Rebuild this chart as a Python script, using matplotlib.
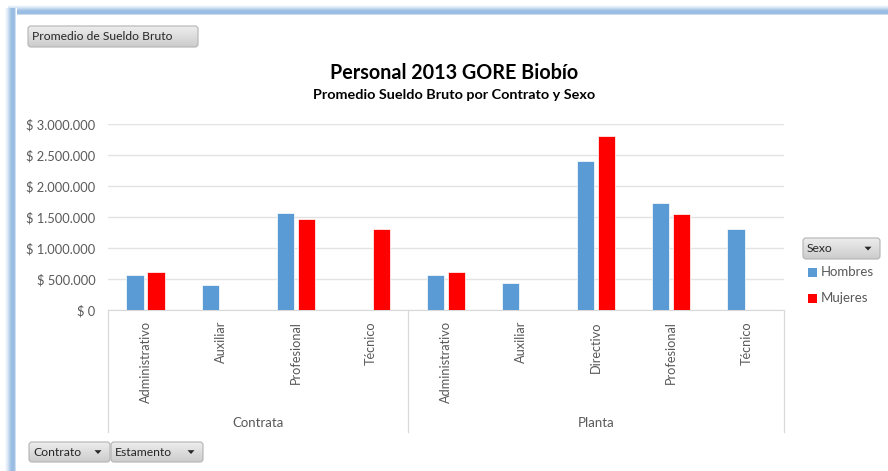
import numpy as np
import matplotlib
matplotlib.use("Agg")
import matplotlib.pyplot as plt
from matplotlib.patches import FancyBboxPatch, Rectangle, Polygon
from matplotlib.ticker import FuncFormatter, MultipleLocator

# ---------------- data ----------------
contratos = ["Contrata", "Planta"]
estamentos_contrata = ["Administrativo", "Auxiliar", "Profesional", "Técnico"]
estamentos_planta = ["Administrativo", "Auxiliar", "Directivo", "Profesional", "Técnico"]
hombres_contrata = [570000, 400000, 1570000, np.nan]
mujeres_contrata = [620000, np.nan, 1460000, 1310000]
hombres_planta = [565000, 430000, 2410000, 1725000, 1305000]
mujeres_planta = [615000, np.nan, 2810000, 1550000, np.nan]
series_names = ["Hombres", "Mujeres"]
series_colors = ["#5B9BD5", "#FF0000"]

FONT = ["Lato", "DejaVu Sans"]
plt.rcParams["font.family"] = FONT
GRAY = "#595959"

W, H = 888, 471
fig = plt.figure(figsize=(W / 100, H / 100), dpi=100)
fig.patch.set_facecolor("white")

# overlay axes in pixel coordinates
ov = fig.add_axes([0, 0, 1, 1], zorder=0)
ov.set_xlim(0, W)
ov.set_ylim(H, 0)
ov.axis("off")

# blue frame gradient (left and top)
prof = np.array([0.0, 0.15, 0.35, 0.6, 0.85, 1.0, 1.0, 0.9, 0.0])
base = np.array([1.0, 1.0, 1.0])
blue = np.array([0.60, 0.74, 0.89])
cols = base[None, :] * (1 - prof[:, None]) + blue[None, :] * prof[:, None]
top_img = np.repeat(cols[:, None, :], 2, axis=1)
ov.imshow(top_img, extent=(8, W, 16, 4), aspect="auto", interpolation="bilinear", zorder=1)
left_img = np.repeat(cols[None, :, :], 2, axis=0)
ov.imshow(left_img, extent=(4, 16, H, 8), aspect="auto", interpolation="bilinear", zorder=1)
ov.add_patch(Rectangle((16, 16), W - 16, H - 16, facecolor="white", edgecolor="none", zorder=2))

grad = np.linspace(0.93, 0.80, 32)
btn_img = np.repeat(np.stack([grad, grad, grad], axis=1)[:, None, :], 2, axis=1)


def button(x0, y0, w, h, label, arrow=False):
    frame = FancyBboxPatch((x0, y0), w, h, boxstyle="round,pad=0,rounding_size=3",
                           facecolor="none", edgecolor="#b3b3b3", linewidth=0.8, zorder=4)
    ov.add_patch(frame)
    im = ov.imshow(btn_img, extent=(x0, x0 + w, y0 + h, y0), aspect="auto",
                   interpolation="bilinear", zorder=3)
    im.set_clip_path(frame)
    ov.text(x0 + 4, y0 + h / 2 + 0.5, label, fontsize=8.7, color="#262626",
            ha="left", va="center", zorder=5)
    if arrow:
        ax_ = x0 + w - 12
        ay = y0 + h / 2
        ov.add_patch(Polygon([[ax_ - 3.5, ay - 1.8], [ax_ + 3.5, ay - 1.8], [ax_, ay + 2]],
                             closed=True, facecolor="#262626", edgecolor="none", zorder=5))


button(28, 26, 170, 21, "Promedio de Sueldo Bruto")
button(29, 442, 81, 20, "Contrato", arrow=True)
button(111, 442, 92, 20, "Estamento", arrow=True)
button(803, 238, 77, 21, "Sexo", arrow=True)
ov.set_xlim(0, W)
ov.set_ylim(H, 0)

# legend entries
for i, (nm, c) in enumerate(zip(series_names, series_colors)):
    yy = 272 + i * 26
    ov.add_patch(Rectangle((808, yy - 4.5), 9, 9, facecolor=c, edgecolor="none", zorder=4))
    ov.text(821, yy, nm, fontsize=9.5, color=GRAY, ha="left", va="center", zorder=4)

# titles
ov.text(454, 73, "Personal 2013 GORE Biobío", fontsize=14.2, fontweight="bold",
        color="black", ha="center", va="center", zorder=4)
ov.text(454, 95, "Promedio Sueldo Bruto por Contrato y Sexo", fontsize=10.4, fontweight="bold",
        color="black", ha="center", va="center", zorder=4)

# ---------------- main chart ----------------
x_left, x_right, y_bot, y_top = 108, 784, 310, 124
ax = fig.add_axes([x_left / W, (H - y_bot) / H, (x_right - x_left) / W, (y_bot - y_top) / H], zorder=5)
ax.patch.set_alpha(0)

labels = estamentos_contrata + estamentos_planta
hombres = hombres_contrata + hombres_planta
mujeres = mujeres_contrata + mujeres_planta
n = len(labels)
x = np.arange(n)
bw = 0.23
off = 0.14
ax.bar(x - off, hombres, width=bw, color=series_colors[0], edgecolor="white", linewidth=0.5, zorder=3)
ax.bar(x + off, mujeres, width=bw, color=series_colors[1], edgecolor="white", linewidth=0.5, zorder=3)

ax.set_xlim(-0.5, n - 0.5)
ax.set_ylim(0, 3000000)
ax.yaxis.set_major_locator(MultipleLocator(500000))
ax.yaxis.set_major_formatter(FuncFormatter(lambda v, p: "$ " + f"{int(v):,}".replace(",", ".")))
ax.grid(axis="y", color="#e3e3e3", linewidth=1, zorder=0)
for s in ["top", "right", "left"]:
    ax.spines[s].set_visible(False)
ax.spines["bottom"].set_color("#d9d9d9")
ax.tick_params(axis="y", length=0, labelsize=9.3, labelcolor=GRAY, pad=9)
ax.set_xticks(x)
ax.set_xticklabels(labels, rotation=90, fontsize=9.2, color=GRAY)
ax.tick_params(axis="x", length=0, pad=8)

# group separators and labels
nc = len(estamentos_contrata)
bounds = [-0.5, nc - 0.5, n - 0.5]
trans = ax.get_xaxis_transform()
depth = (432 - y_bot) / (y_bot - y_top)
for b in bounds:
    ax.plot([b, b], [0, -depth], transform=trans, color="#d9d9d9", linewidth=0.9, clip_on=False, zorder=2)
centers = [(bounds[0] + bounds[1]) / 2, (bounds[1] + bounds[2]) / 2]
lab_y = -(423 - y_bot) / (y_bot - y_top)
for cx, g in zip(centers, contratos):
    ax.text(cx, lab_y, g, transform=trans, ha="center", va="center", fontsize=9.5, color=GRAY)

fig.savefig("out.png", dpi=100, facecolor="white")
